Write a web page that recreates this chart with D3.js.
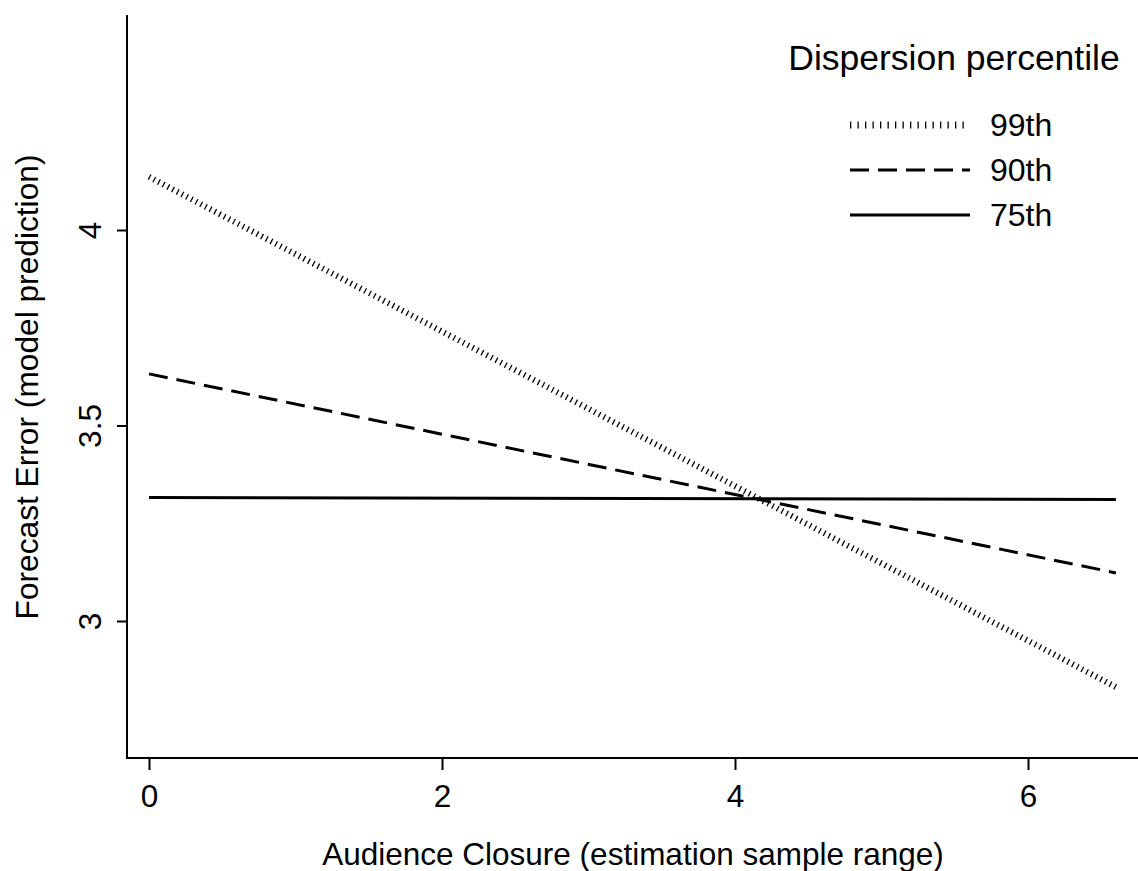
<!DOCTYPE html>
<html>
<head>
<meta charset="utf-8">
<script src="https://cdn.jsdelivr.net/npm/d3@7"></script>
<style>
  body { margin: 0; background: #fff; }
  text { font-family: "Liberation Sans", Arial, sans-serif; fill: #000; }
</style>
</head>
<body>
<div id="chart"></div>
<script>
// closure values where the predictions are evaluated
var closure = [0, 6.6];

// predicted forecast error per dispersion percentile
var pred99 = [4.136, 2.831];
var pred90 = [3.632, 3.123];
var pred75 = [3.316, 3.311];

var seriesNames = ["99th", "90th", "75th"];
var xTicks = [0, 2, 4, 6];
var yTicks = [3, 3.5, 4];

var width = 1138, height = 871;

var svg = d3.select("#chart")
    .append("svg")
    .attr("width", width)
    .attr("height", height);

// scales (pixel range)
var x = d3.scaleLinear().domain([0, 6]).range([149, 1028]);
var y = d3.scaleLinear().domain([3, 4]).range([621, 230]);

var plotLeft = 127, plotBottom = 758, plotTop = 15, plotRight = 1138;

// line styles for each series
var styles = {
    "99th": { width: 6, dash: "1.3,4", color: "#000" },
    "90th": { width: 3, dash: "19,9", color: "#000" },
    "75th": { width: 3, dash: null, color: "#000" }
};

var series = [
    { name: "99th", values: pred99 },
    { name: "90th", values: pred90 },
    { name: "75th", values: pred75 }
];

var line = d3.line()
    .x(function(d) { return x(d.x); })
    .y(function(d) { return y(d.y); });

// draw the prediction lines
series.forEach(function(s) {
    var pts = closure.map(function(c, i) { return { x: c, y: s.values[i] }; });
    var st = styles[s.name];
    svg.append("path")
        .datum(pts)
        .attr("d", line)
        .attr("fill", "none")
        .attr("stroke", st.color)
        .attr("stroke-width", st.width)
        .attr("stroke-dasharray", st.dash);
});

// x axis
var xAxis = svg.append("g")
    .attr("transform", "translate(0," + plotBottom + ")")
    .call(d3.axisBottom(x).tickValues(xTicks).tickSize(12).tickPadding(15).tickFormat(d3.format("d")));
xAxis.select(".domain").remove();
xAxis.append("line")
    .attr("x1", plotLeft).attr("x2", plotRight)
    .attr("stroke", "#000").attr("stroke-width", 2);
xAxis.selectAll(".tick line").attr("stroke-width", 2);
xAxis.selectAll(".tick text")
    .style("font-size", "31.5px")
    .attr("fill", "#000");

// y axis
var yAxis = svg.append("g")
    .attr("transform", "translate(" + plotLeft + ",0)")
    .call(d3.axisLeft(y).tickValues(yTicks).tickSize(10).tickFormat(function(d) { return d; }));
yAxis.select(".domain").remove();
yAxis.append("line")
    .attr("y1", plotTop).attr("y2", plotBottom + 1)
    .attr("stroke", "#000").attr("stroke-width", 2);
yAxis.selectAll(".tick line").attr("stroke-width", 2);
yAxis.selectAll(".tick text")
    .attr("x", null)
    .attr("text-anchor", "middle")
    .attr("transform", "translate(-26,0) rotate(-90)")
    .attr("dy", "0")
    .style("font-size", "31.5px")
    .attr("fill", "#000");

// axis titles
svg.append("text")
    .attr("x", 633)
    .attr("y", 865)
    .attr("text-anchor", "middle")
    .style("font-size", "31.5px")
    .text("Audience Closure (estimation sample range)");

svg.append("text")
    .attr("transform", "translate(38,387) rotate(-90)")
    .attr("text-anchor", "middle")
    .style("font-size", "31.7px")
    .text("Forecast Error (model prediction)");

// legend
var legend = svg.append("g");
legend.append("text")
    .attr("x", 954)
    .attr("y", 70)
    .attr("text-anchor", "middle")
    .style("font-size", "35.5px")
    .text("Dispersion percentile");

seriesNames.forEach(function(n, i) {
    var ly = 125 + i * 45;
    var st = styles[n];
    legend.append("line")
        .attr("x1", 850).attr("x2", 970)
        .attr("y1", ly).attr("y2", ly)
        .attr("stroke", st.color)
        .attr("stroke-width", n === "99th" ? 7 : st.width)
        .attr("stroke-dasharray", n === "99th" ? "1.3,6.2" : st.dash);
    legend.append("text")
        .attr("x", 990)
        .attr("y", ly + 11)
        .style("font-size", "32px")
        .text(n);
});
</script>
</body>
</html>
